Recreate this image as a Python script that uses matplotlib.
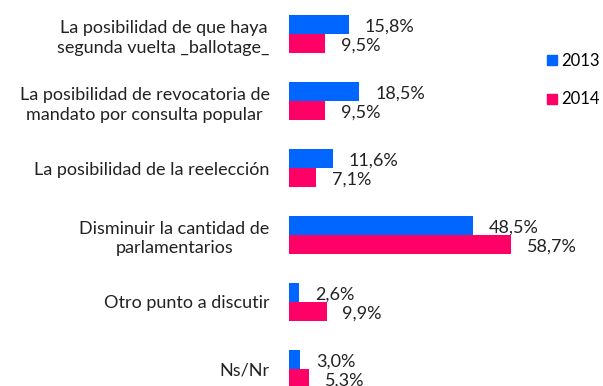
import matplotlib.pyplot as plt
from matplotlib.lines import Line2D
from matplotlib import rc

rc('font', family=['Lato', 'DejaVu Sans'], size=13)

categories = [
    'La posibilidad de que haya\nsegunda vuelta _ballotage_',
    'La posibilidad de revocatoria de\nmandato por consulta popular',
    'La posibilidad de la reelección',
    'Disminuir la cantidad de\nparlamentarios',
    'Otro punto a discutir',
    'Ns/Nr',
]
years = ['2013', '2014']
vals_2013 = [15.8, 18.5, 11.6, 48.5, 2.6, 3.0]
vals_2014 = [9.5, 9.5, 7.1, 58.7, 9.9, 5.3]

blue = '#0066ff'
pink = '#ff0066'

W, H = 603, 386
fig = plt.figure(figsize=(W / 100, H / 100), dpi=100)
# axes placed in pixel units so 1% ~ 3.8px and groups ~67px apart
ax = fig.add_axes([289 / W, 0, 300 / W, 1])

ind = list(range(len(categories)))
h = 0.285

def plot_bar(data, pos, color):
    bars = ax.barh(pos, data, height=h, color=color, linewidth=0)
    for v, rect in zip(data, bars):
        ax.annotate('{:.1f}%'.format(v).replace('.', ','),
                    (v, rect.get_y() + rect.get_height() / 2),
                    xytext=(11.5, -1.5), textcoords='offset points',
                    ha='left', va='center', fontsize=13, color='#222222')
    return bars

plot_bar(vals_2013, [i - h / 2 for i in ind], blue)
plot_bar(vals_2014, [i + h / 2 for i in ind], pink)

ax.set_xlim(0, 300 / 3.79)
ax.set_ylim(5.257, -0.513)
ax.set_yticks(ind)
ax.set_yticklabels(categories, multialignment='center', linespacing=1.3,
                   fontsize=13, color='#222222')
ax.tick_params(axis='y', length=0, pad=14)
ax.set_xticks([])
for s in ax.spines.values():
    s.set_visible(False)

handles = [Line2D([], [], marker='s', linestyle='', markersize=7,
                  color=c) for c in (blue, pink)]
fig.legend(handles, years, loc='upper left', bbox_to_anchor=(545 / W, 1 - 53 / H),
           frameon=False, handletextpad=0.2, labelspacing=1.35, borderpad=0,
           fontsize=12, borderaxespad=0, handlelength=0.8)

fig.savefig('out.png', dpi=100)
